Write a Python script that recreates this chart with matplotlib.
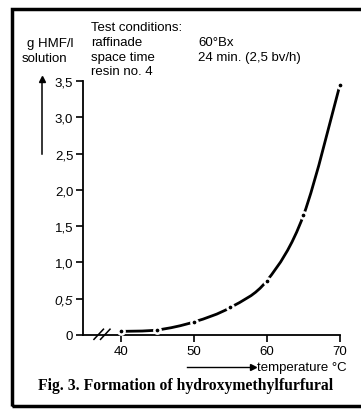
import numpy as np
import matplotlib.pyplot as plt
from matplotlib.path import Path
from matplotlib.patches import PathPatch, Rectangle

# data
temperature = [40, 45, 50, 55, 60, 65, 70]
hmf = [0.05, 0.07, 0.18, 0.38, 0.75, 1.65, 3.45]
y_ticks = [0, 0.5, 1.0, 1.5, 2.0, 2.5, 3.0, 3.5]
y_labels = ['0', '0,5', '1,0', '1,5', '2,0', '2,5', '3,0', '3,5']
x_ticks = [40, 50, 60, 70]
x_labels = ['40', '50', '60', '70']

plt.rcParams['font.family'] = ['Liberation Sans', 'DejaVu Sans']

fig = plt.figure(figsize=(3.61, 4.10), dpi=100)
ax = fig.add_axes([83 / 361, 74 / 410, 257 / 361, 254 / 410])
ax.set_xlim(34.8, 70)
ax.set_ylim(0, 3.5)


def smooth_path(xs, ys):
    # catmull-rom through the measured points, drawn as bezier segments
    pts = np.column_stack([xs, ys])
    verts = [pts[0]]
    codes = [Path.MOVETO]
    for i in range(len(pts) - 1):
        p0 = pts[i - 1] if i > 0 else pts[i]
        p1, p2 = pts[i], pts[i + 1]
        p3 = pts[i + 2] if i + 2 < len(pts) else pts[i + 1]
        verts += [p1 + (p2 - p0) / 6, p2 - (p3 - p1) / 6, p2]
        codes += [Path.CURVE4] * 3
    return Path(verts, codes)


curve = PathPatch(smooth_path(temperature, hmf), facecolor='none', edgecolor='black',
                  lw=2.0, transform=ax.transData, clip_on=False)
ax.add_patch(curve)
ax.plot(temperature, hmf, 'o', color='black', ms=4.5, mec='white', mew=1.8,
        clip_on=False, zorder=3)

for side in ['top', 'right']:
    ax.spines[side].set_visible(False)
for side in ['left', 'bottom']:
    ax.spines[side].set_linewidth(1.3)

ax.set_yticks(y_ticks)
ax.set_yticklabels(y_labels)
ax.set_xticks(x_ticks)
ax.set_xticklabels(x_labels)
ax.tick_params(direction='out', length=5, width=1.2, labelsize=9.5, pad=2)
ax.get_yticklabels()[1].set_style('italic')

# axis break marks
for dx in [0, 0.9]:
    ax.plot([36.3 + dx, 37.6 + dx], [-0.06, 0.08], color='black', lw=1.1, clip_on=False)

# labels and annotations
fig.text(27 / 361, 1 - 44 / 410, 'g HMF/l', fontsize=9.5, va='center')
fig.text(22 / 361, 1 - 59 / 410, 'solution', fontsize=9.5, va='center')
fig.add_artist(plt.Line2D([42 / 361, 42 / 361], [1 - 155 / 410, 1 - 82 / 410],
                          color='black', lw=1.1))
fig.add_artist(plt.Line2D([42 / 361], [1 - 80 / 410], marker='^', color='black', ms=4))

tx, tx2 = 91 / 361, 198 / 361
fig.text(tx, 1 - 28 / 410, 'Test conditions:', fontsize=9.5, va='center')
fig.text(tx, 1 - 43 / 410, 'raffinade', fontsize=9.5, va='center')
fig.text(tx2, 1 - 43 / 410, '60°Bx', fontsize=9.5, va='center')
fig.text(tx, 1 - 58 / 410, 'space time', fontsize=9.5, va='center')
fig.text(tx2, 1 - 58 / 410, '24 min. (2,5 bv/h)', fontsize=9.5, va='center')
fig.text(tx, 1 - 72 / 410, 'resin no. 4', fontsize=9.5, va='center')

fig.add_artist(plt.Line2D([187 / 361, 252 / 361], [1 - 368 / 410, 1 - 368 / 410],
                          color='black', lw=1.0))
fig.add_artist(plt.Line2D([253 / 361], [1 - 368 / 410], marker='>', color='black', ms=4))
fig.text(257 / 361, 1 - 368 / 410, 'temperature °C', fontsize=9.5, va='center')

fig.text(186 / 361, 1 - 386 / 410, 'Fig. 3. Formation of hydroxymethylfurfural',
         fontsize=11.3, fontweight='bold', family='Liberation Serif', ha='center', va='center')

# frame around the whole figure
fig.add_artist(Rectangle((12 / 361, 3 / 410), 360 / 361, 397 / 410, transform=fig.transFigure,
                         fill=False, edgecolor='black', lw=2.5))

fig.savefig('out.png', dpi=100)
